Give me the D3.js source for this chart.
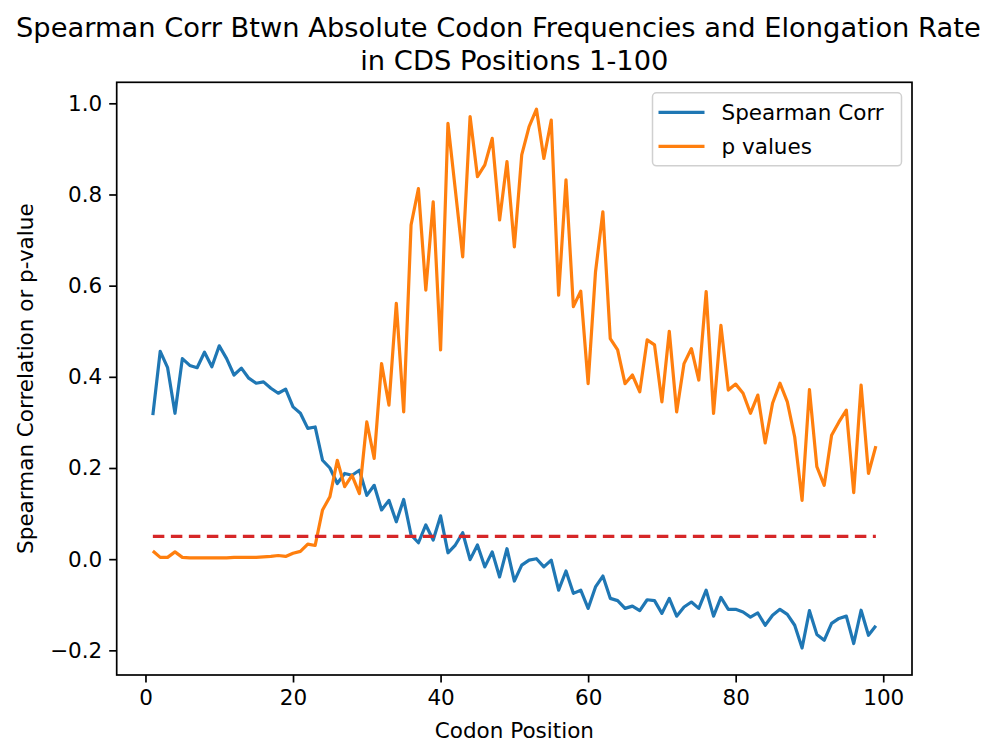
<!DOCTYPE html>
<html>
<head>
<meta charset="utf-8">
<script src="https://cdn.jsdelivr.net/npm/d3@7"></script>
<style>
  body { margin: 0; background: #fff; }
  svg text { font-family: "DejaVu Sans", sans-serif; fill: #000; }
</style>
</head>
<body>
<div class="canvas"></div>
<script>
// codon positions along the CDS
const positions = d3.range(1, 100);

// spearman correlation per codon position
const spearmanCorr = [
  0.316, 0.456, 0.420, 0.320, 0.440, 0.425, 0.420, 0.454, 0.422, 0.468,
  0.440, 0.404, 0.419, 0.397, 0.386, 0.389, 0.375, 0.364, 0.373, 0.334,
  0.320, 0.287, 0.290, 0.217, 0.200, 0.166, 0.188, 0.184, 0.195, 0.140,
  0.162, 0.108, 0.129, 0.082, 0.131, 0.053, 0.036, 0.075, 0.042, 0.095,
  0.014, 0.031, 0.058, -0.001, 0.031, -0.017, 0.016, -0.039, 0.023, -0.048,
  -0.013, -0.002, 0.001, -0.017, -0.002, -0.068, -0.026, -0.075, -0.068, -0.108,
  -0.061, -0.037, -0.086, -0.091, -0.108, -0.103, -0.113, -0.089, -0.091, -0.119,
  -0.086, -0.125, -0.105, -0.094, -0.108, -0.068, -0.125, -0.084, -0.110, -0.110,
  -0.116, -0.127, -0.118, -0.145, -0.123, -0.110, -0.121, -0.145, -0.195, -0.113,
  -0.165, -0.178, -0.141, -0.130, -0.125, -0.185, -0.112, -0.167, -0.146
];

// matching p values
const pValues = [
  0.018, 0.004, 0.004, 0.016, 0.004, 0.003, 0.003, 0.003, 0.003, 0.003,
  0.003, 0.004, 0.004, 0.004, 0.004, 0.005, 0.006, 0.008, 0.006, 0.013,
  0.017, 0.033, 0.030, 0.108, 0.137, 0.217, 0.159, 0.184, 0.144, 0.301,
  0.221, 0.429, 0.338, 0.561, 0.323, 0.733, 0.813, 0.590, 0.784, 0.459,
  0.956, 0.810, 0.663, 0.971, 0.839, 0.865, 0.923, 0.744, 0.872, 0.685,
  0.887, 0.949, 0.987, 0.879, 0.963, 0.579, 0.832, 0.554, 0.588, 0.385,
  0.630, 0.762, 0.484, 0.459, 0.385, 0.404, 0.367, 0.481, 0.470, 0.345,
  0.500, 0.323, 0.429, 0.462, 0.393, 0.587, 0.320, 0.513, 0.371, 0.384,
  0.364, 0.320, 0.360, 0.255, 0.342, 0.386, 0.345, 0.268, 0.129, 0.372,
  0.203, 0.162, 0.272, 0.301, 0.327, 0.146, 0.382, 0.188, 0.248
];

const threshold = 0.05;

const xTicks = [0, 20, 40, 60, 80, 100];
const yTicks = [-0.2, 0.0, 0.2, 0.4, 0.6, 0.8, 1.0];

const seriesNames = ['Spearman Corr', 'p values'];
const titleLines = ['Spearman Corr Btwn Absolute Codon Frequencies and Elongation Rate', 'in CDS Positions 1-100'];

//------------------------dimensions
const dims = { width: 989, height: 744 };
const plot = { left: 116.7, right: 912, top: 82.3, bottom: 675 };
const fontSize = 21.5;

const svg = d3.select('.canvas')
  .append('svg')
  .attr('width', dims.width)
  .attr('height', dims.height);

//------------------------scales with 5% margins like the usual autoscale
const xPad = (d3.max(positions) - d3.min(positions)) * 0.05;
const x = d3.scaleLinear()
  .domain([d3.min(positions) - xPad, d3.max(positions) + xPad])
  .range([plot.left, plot.right]);

const allVals = spearmanCorr.concat(pValues);
const yMin = d3.min(allVals), yMax = d3.max(allVals);
const yPad = (yMax - yMin) * 0.05;
const y = d3.scaleLinear()
  .domain([yMin - yPad, yMax + yPad])
  .range([plot.bottom, plot.top]);

//------------------------axes
const xAxis = d3.axisBottom(x).tickValues(xTicks).tickFormat(d3.format('d'))
  .tickSizeInner(7.5).tickSizeOuter(0).tickPadding(7);
const yAxis = d3.axisLeft(y).tickValues(yTicks).tickFormat(d3.format('.1f'))
  .tickSizeInner(7.5).tickSizeOuter(0).tickPadding(7);

const gx = svg.append('g')
  .attr('transform', `translate(0, ${plot.bottom})`)
  .call(xAxis);
const gy = svg.append('g')
  .attr('transform', `translate(${plot.left}, 0)`)
  .call(yAxis);

[gx, gy].forEach(g => {
  g.select('.domain').remove();
  g.selectAll('.tick line').attr('stroke', '#000').attr('stroke-width', 1.7);
  g.selectAll('.tick text')
    .style('font-size', fontSize + 'px')
    .style('font-family', '"DejaVu Sans", sans-serif')
    .attr('fill', '#000');
});

//------------------------lines
const line = d3.line()
  .x((d, i) => x(positions[i]))
  .y(d => y(d));

svg.append('clipPath').attr('id', 'plotClip')
  .append('rect')
  .attr('x', plot.left).attr('y', plot.top)
  .attr('width', plot.right - plot.left).attr('height', plot.bottom - plot.top);

const graph = svg.append('g').attr('clip-path', 'url(#plotClip)');

graph.append('path')
  .datum(spearmanCorr)
  .attr('fill', 'none')
  .attr('stroke', '#1f77b4')
  .attr('stroke-width', 3.2)
  .attr('stroke-linejoin', 'round')
  .attr('d', line);

graph.append('path')
  .datum(pValues)
  .attr('fill', 'none')
  .attr('stroke', '#ff7f0e')
  .attr('stroke-width', 3.2)
  .attr('stroke-linejoin', 'round')
  .attr('d', line);

// significance cutoff
graph.append('line')
  .attr('x1', x(d3.min(positions)))
  .attr('x2', x(d3.max(positions)))
  .attr('y1', y(threshold))
  .attr('y2', y(threshold))
  .attr('stroke', '#d62728')
  .attr('stroke-width', 3.2)
  .attr('stroke-dasharray', '11.5,6.5');

//------------------------frame
svg.append('rect')
  .attr('x', plot.left).attr('y', plot.top)
  .attr('width', plot.right - plot.left).attr('height', plot.bottom - plot.top)
  .attr('fill', 'none')
  .attr('stroke', '#000')
  .attr('stroke-width', 1.7);

//------------------------legend
const legendGroup = svg.append('g')
  .attr('transform', `translate(${plot.right - 10.5}, ${plot.top + 10.5})`);

legendGroup.append('rect')
  .attr('x', -249).attr('y', 0)
  .attr('width', 249).attr('height', 73)
  .attr('rx', 4)
  .attr('fill', '#fff').attr('fill-opacity', 0.8)
  .attr('stroke', '#d0d0d0').attr('stroke-width', 1.5);

const legendColors = ['#1f77b4', '#ff7f0e'];
seriesNames.forEach((name, i) => {
  const yy = 19.5 + i * 34;
  legendGroup.append('line')
    .attr('x1', -243).attr('x2', -197)
    .attr('y1', yy).attr('y2', yy)
    .attr('stroke', legendColors[i])
    .attr('stroke-width', 3.2);
  legendGroup.append('text')
    .attr('x', -180).attr('y', yy)
    .attr('dy', '0.36em')
    .style('font-size', fontSize + 'px')
    .text(name);
});

//------------------------title and axis labels
const cx = (plot.left + plot.right) / 2;
const titleShift = [-16, 0]; // first line is nudged left to stay inside the page

svg.append('text')
  .attr('text-anchor', 'middle')
  .style('font-size', '27.3px')
  .selectAll('tspan')
  .data(titleLines)
  .enter()
  .append('tspan')
  .attr('x', (d, i) => cx + titleShift[i])
  .attr('y', (d, i) => 37 + i * 33)
  .text(d => d);

svg.append('text')
  .attr('x', cx)
  .attr('y', 738)
  .attr('text-anchor', 'middle')
  .style('font-size', fontSize + 'px')
  .text('Codon Position');

svg.append('text')
  .attr('transform', `translate(33, ${(plot.top + plot.bottom) / 2}) rotate(-90)`)
  .attr('text-anchor', 'middle')
  .style('font-size', fontSize + 'px')
  .text('Spearman Correlation or p-value');
</script>
</body>
</html>
